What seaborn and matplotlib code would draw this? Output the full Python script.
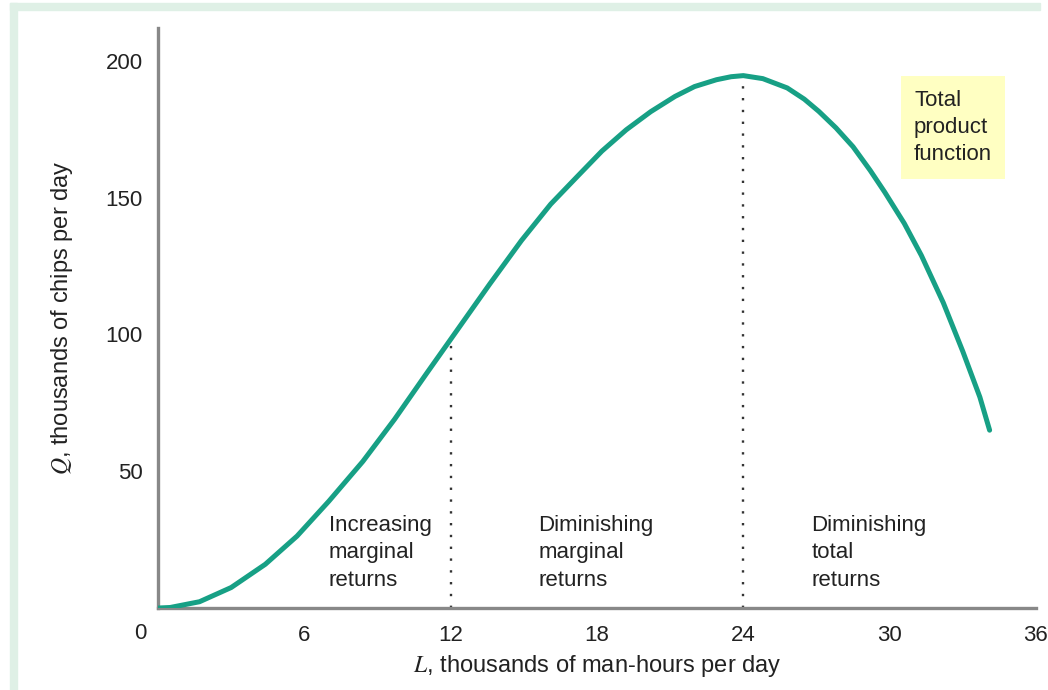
import numpy as np
import pandas as pd
import seaborn as sns
import matplotlib.pyplot as plt
from matplotlib.patches import Rectangle

# total product curve
labor = [0, 0.5, 1.7, 3.0, 4.4, 5.7, 7.0, 8.4, 9.7, 11.0, 12.3, 13.6, 14.9,
         16.1, 17.2, 18.2, 19.2, 20.2, 21.2, 22.0, 22.9, 23.5, 24.0, 24.8,
         25.8, 26.5, 27.1, 27.8, 28.5, 29.2, 29.8, 30.6, 31.3, 32.2, 33.0,
         33.7, 34.1]
output = [0, 0.2, 2.3, 7.5, 16.0, 26.3, 39.0, 53.6, 69.0, 85.6, 102.0, 118.4,
          134.3, 147.6, 157.8, 167.0, 174.8, 181.4, 187.0, 190.6, 193.1, 194.2,
          194.6, 193.5, 190.1, 186.0, 181.5, 175.5, 168.6, 160.0, 152.0, 140.6,
          128.9, 111.6, 93.8, 77.1, 65.0]

x_ticks = [6, 12, 18, 24, 30, 36]
y_ticks = [50, 100, 150, 200]

# stage boundaries (dotted lines)
bound_L = [12, 24]
bound_Q = [96, 193]

stage_labels = ["Increasing\nmarginal\nreturns",
                "Diminishing\nmarginal\nreturns",
                "Diminishing\ntotal\nreturns"]
stage_L = [7.0, 15.6, 26.8]

df = pd.DataFrame({"L": labor, "Q": output})

sns.set_style("white")
plt.rcParams["font.family"] = ["Liberation Sans", "DejaVu Sans"]
plt.rcParams["mathtext.fontset"] = "stix"

fig = plt.figure(figsize=(10.48, 6.90), dpi=100)
ax = fig.add_axes([0.1508, 0.1188, 0.9885 - 0.1508, 0.9594 - 0.1188])

# mint frame around the figure
fig.patches.append(Rectangle((10 / 1048, 0), 7 / 1048, 687 / 690,
                             transform=fig.transFigure, color="#dff0e6", zorder=0))
fig.patches.append(Rectangle((10 / 1048, 680 / 690), 1030 / 1048, 7 / 690,
                             transform=fig.transFigure, color="#dff0e6", zorder=0))

sns.lineplot(data=df, x="L", y="Q", ax=ax, color="#17a085", linewidth=3.6,
             sort=False, zorder=3)
ax.lines[-1].set_solid_joinstyle("round")

for bl, bq in zip(bound_L, bound_Q):
    ax.plot([bl, bl], [0, bq], color="#333333", linestyle=(0, (1, 4)),
            linewidth=1.7, zorder=2)

for txt, sl in zip(stage_labels, stage_L):
    ax.text(sl, 34, txt, ha="left", va="top", fontsize=16, color="#222222",
            linespacing=1.4)

ax.text(31.0, 189.5, "Total\nproduct\nfunction", ha="left", va="top",
        fontsize=16, color="#222222", linespacing=1.4,
        bbox=dict(boxstyle="square,pad=0.6", facecolor="#ffffc2",
                  edgecolor="none"))

ax.set_xlim(0, 36)
ax.set_ylim(0, 212)
ax.set_xticks(x_ticks)
ax.set_yticks(y_ticks)
ax.tick_params(length=0, labelsize=16, colors="#222222")
ax.tick_params(axis="x", pad=12)
ax.tick_params(axis="y", pad=11)
ax.annotate("0", xy=(0, 0), xytext=(-13, -18), textcoords="offset points",
            ha="center", va="center", fontsize=16, color="#222222",
            annotation_clip=False)

ax.set_xlabel("$L$, thousands of man-hours per day", fontsize=17,
              color="#222222", labelpad=5)
ax.set_ylabel("$Q$, thousands of chips per day", fontsize=17,
              color="#222222", labelpad=22)

sns.despine(ax=ax)
for s in ["left", "bottom"]:
    ax.spines[s].set_color("#888888")
    ax.spines[s].set_linewidth(2.4)

fig.savefig("out.png", dpi=100)
